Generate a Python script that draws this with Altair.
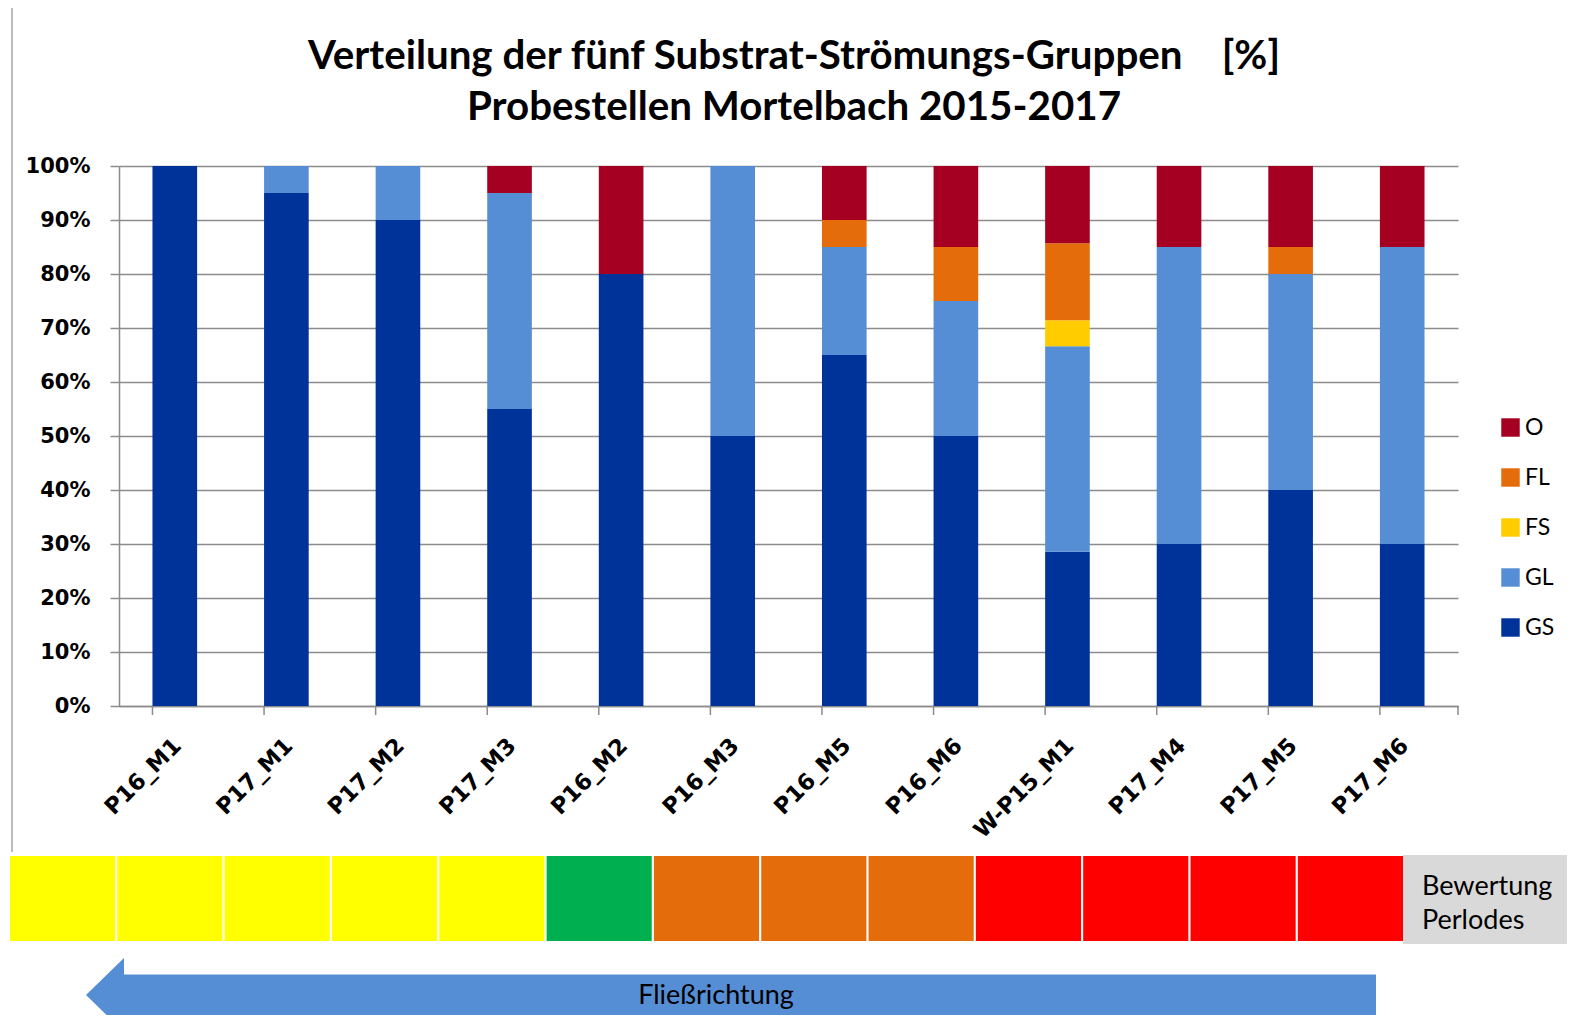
import altair as alt
import pandas as pd

# ---------------- data ----------------
sites = ["P16_M1", "P17_M1", "P17_M2", "P17_M3", "P16_M2", "P16_M3",
         "P16_M5", "P16_M6", "W-P15_M1", "P17_M4", "P17_M5", "P17_M6"]
GS = [100, 95, 90, 55, 80, 50, 65, 50, 28.6, 30, 40, 30]
GL = [0, 5, 10, 40, 0, 50, 20, 25, 38.1, 55, 40, 55]
FS = [0, 0, 0, 0, 0, 0, 0, 0, 4.8, 0, 0, 0]
FL = [0, 0, 0, 0, 0, 0, 5, 10, 14.3, 0, 5, 0]
O = [0, 0, 0, 5, 20, 0, 10, 15, 14.3, 15, 15, 15]

stack_groups = ["GS", "GL", "FS", "FL", "O"]          # bottom -> top
legend_groups = ["O", "FL", "FS", "GL", "GS"]         # legend order
legend_colors = ["#a50021", "#e46c0a", "#ffcc00", "#558ed5", "#003399"]

# Bewertung Perlodes strip (13 cells)
ratings = ["mäßig", "mäßig", "mäßig", "mäßig", "mäßig", "gut",
           "unbefriedigend", "unbefriedigend", "unbefriedigend",
           "schlecht", "schlecht", "schlecht", "schlecht"]
rating_names = ["gut", "mäßig", "unbefriedigend", "schlecht"]
rating_colors = ["#00b050", "#ffff00", "#e46c0a", "#ff0000"]

title_lines = ["Verteilung der fünf Substrat-Strömungs-Gruppen\u00a0\u00a0\u00a0\u00a0[%]",
               "Probestellen Mortelbach 2015-2017"]
strip_label = ["Bewertung", "Perlodes"]
arrow_label = "Fließrichtung"
y_ticks = [0, 0.1, 0.2, 0.3, 0.4, 0.5, 0.6, 0.7, 0.8, 0.9, 1.0]

# ---------------- tables ----------------
series = [GS, GL, FS, FL, O]
rows = []
for i, s in enumerate(sites):
    for k, g in enumerate(stack_groups):
        rows.append({"site": s, "group": g, "value": series[k][i], "ord": k})
df = pd.DataFrame(rows)
tick_df = pd.DataFrame({"site": sites})
strip_df = pd.DataFrame({"cell": list(range(len(ratings))), "rating": ratings})
one = pd.DataFrame({"k": [0]})
title_df = pd.DataFrame({"t": ["\n".join(title_lines)]})
slab_df = pd.DataFrame({"t": ["\n".join(strip_label)]})
arrow_df = pd.DataFrame({"t": [arrow_label]})

W, H = 1339, 540
GRID = "#8c8c8c"
x_scale = alt.Scale(domain=sites, paddingInner=0.6, paddingOuter=0.3)

bars = alt.Chart(df).mark_bar().encode(
    x=alt.X("site:N", sort=sites, scale=x_scale,
            axis=alt.Axis(title=None, labelAngle=-45, labelFont="DejaVu Sans",
                          labelFontWeight="bold", labelFontSize=22.5, labelColor="black",
                          ticks=False, domainColor=GRID, domainWidth=1.5,
                          labelPadding=28, labelOffset=-5, grid=False)),
    y=alt.Y("value:Q", stack="normalize", scale=alt.Scale(domain=[0, 1]),
            axis=alt.Axis(title=None, format=".0%", values=y_ticks, tickSize=9,
                          tickColor=GRID, tickWidth=1.5, domainColor=GRID, domainWidth=1.5,
                          grid=True, gridColor=GRID, gridWidth=1.5,
                          labelFont="DejaVu Sans", labelFontWeight="bold",
                          labelFontSize=21, labelColor="black", labelPadding=20)),
    color=alt.Color("group:N", scale=alt.Scale(domain=legend_groups, range=legend_colors),
                    legend=alt.Legend(title=None, orient="none", legendX=1380, legendY=250,
                                      symbolType="square", symbolSize=340,
                                      symbolStrokeWidth=0, symbolOpacity=1,
                                      labelFont="Lato", labelFontSize=23,
                                      labelColor="black", rowPadding=26,
                                      labelOffset=3, padding=0)),
    order=alt.Order("ord:Q"),
)

xticks = alt.Chart(tick_df).mark_rule(color=GRID, strokeWidth=1.5).encode(
    x=alt.X("site:N", sort=sites, scale=x_scale, axis=None, bandPosition=0),
    y=alt.value(H), y2=alt.value(H + 9),
)
xtick_end = alt.Chart(one).mark_rule(color=GRID, strokeWidth=1.5).encode(
    x=alt.value(W), y=alt.value(H), y2=alt.value(H + 9),
)

border_left = alt.Chart(one).mark_rule(color="#a6a6a6", strokeWidth=1.5).encode(
    x=alt.value(-107), y=alt.value(-159), y2=alt.value(686),
)
border_top = alt.Chart(one).mark_rule(color="#a6a6a6", strokeWidth=1.5).encode(
    x=alt.value(-107), x2=alt.value(1500), y=alt.value(-159),
)

title = alt.Chart(title_df).mark_text(
    font="Lato", fontWeight="bold", fontSize=40.3, align="center",
    baseline="alphabetic", lineBreak="\n", lineHeight=51, color="black",
).encode(x=alt.value(675), y=alt.value(-97.5), text="t:N")

strip = alt.Chart(strip_df).mark_rect().encode(
    x=alt.X("cell:O", scale=alt.Scale(range=[-109, 1284], paddingInner=0.02, paddingOuter=0),
            axis=None),
    y=alt.value(690), y2=alt.value(775),
    color=alt.Color("rating:N", scale=alt.Scale(domain=rating_names, range=rating_colors),
                    legend=None),
)

gray_cell = alt.Chart(one).mark_rect(color="#d9d9d9").encode(
    x=alt.value(1284), x2=alt.value(1470), y=alt.value(689), y2=alt.value(778),
)
gray_text = alt.Chart(slab_df).mark_text(
    font="Lato", fontSize=27, align="left", baseline="alphabetic",
    lineBreak="\n", lineHeight=34, color="black",
).encode(x=alt.value(1303), y=alt.value(729), text="t:N")

arrow = alt.Chart(one).mark_point(
    shape="M0,0L38,-37L38,-20.5L1290,-20.5L1290,20.5L38,20.5L38,37Z",
    size=4, filled=True, color="#558ed5", opacity=1, strokeWidth=0,
).encode(x=alt.value(-33), y=alt.value(829))
arrow_text = alt.Chart(arrow_df).mark_text(
    font="Lato", fontSize=27, align="center", baseline="middle", color="black",
).encode(x=alt.value(597), y=alt.value(830), text="t:N")

chart = alt.layer(
    border_left, border_top, bars, xticks, xtick_end, title,
    strip, gray_cell, gray_text, arrow, arrow_text,
).resolve_scale(x="independent", color="independent").properties(
    width=W, height=H,
    padding={"left": 111, "top": 158, "right": 109, "bottom": 309},
    autosize=alt.AutoSizeParams(type="none"),
    background="white",
).configure_view(stroke=None)

chart.save("out.html", embed_options={"renderer": "svg", "actions": False})
